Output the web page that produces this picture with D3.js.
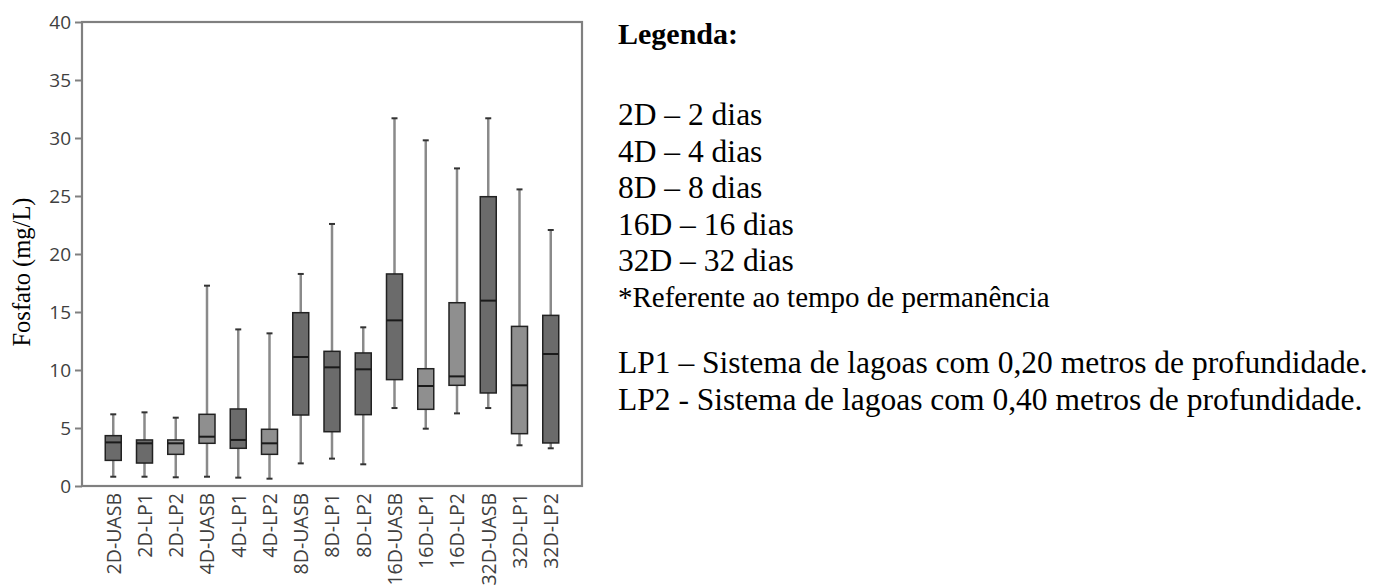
<!DOCTYPE html>
<html>
<head>
<meta charset="utf-8">
<script src="https://cdn.jsdelivr.net/npm/d3@7"></script>
<style>
  body { margin: 0; background: #fff; }
  svg { display: block; }
</style>
</head>
<body>
<script>
// box summary per group (mg/L)
const categories = ["2D-UASB", "2D-LP1", "2D-LP2", "4D-UASB", "4D-LP1", "4D-LP2",
  "8D-UASB", "8D-LP1", "8D-LP2", "16D-UASB", "16D-LP1", "16D-LP2",
  "32D-UASB", "32D-LP1", "32D-LP2"];
const whiskerLow  = [0.80, 0.80, 0.75, 0.80, 0.72, 0.63, 1.95, 2.36, 1.87, 6.72, 4.94, 6.26, 6.72, 3.51, 3.25];
const q1          = [2.21, 1.98, 2.73, 3.68, 3.25, 2.73, 6.12, 4.68, 6.15, 9.17, 6.61, 8.68, 8.02, 4.51, 3.71];
const medians     = [3.76, 3.68, 3.68, 4.25, 3.97, 3.68, 11.12, 10.23, 10.06, 14.28, 8.62, 9.45, 15.98, 8.68, 11.38];
const q3          = [4.34, 3.97, 3.97, 6.18, 6.64, 4.89, 14.94, 11.61, 11.47, 18.28, 10.11, 15.80, 24.94, 13.76, 14.71];
const whiskerHigh = [6.18, 6.35, 5.89, 17.27, 13.50, 13.16, 18.28, 22.59, 13.68, 31.70, 29.80, 27.38, 31.70, 25.57, 22.07];
const yTicks = [0, 5, 10, 15, 20, 25, 30, 35, 40];

const legendTitle = "Legenda:";
const legendDays = ["2D – 2 dias", "4D – 4 dias", "8D – 8 dias", "16D – 16 dias", "32D – 32 dias"];
const legendNote = "*Referente ao tempo de permanência";
const legendSystems = ["LP1 – Sistema de lagoas com 0,20 metros de profundidade.",
  "LP2 - Sistema de lagoas com 0,40 metros de profundidade."];

// the lighter grey boxes in the original
const lightBoxes = new Set(["2D-LP2", "4D-UASB", "4D-LP2", "16D-LP1", "16D-LP2", "32D-LP1"]);

const width = 1384, height = 585;
const plotLeft = 82, plotRight = 582, plotTop = 22, plotBottom = 486;

const svg = d3.select("body").append("svg")
  .attr("width", width)
  .attr("height", height);

const x = d3.scalePoint().domain(categories).range([plotLeft, plotRight]).padding(1);
const y = d3.scaleLinear().domain([0, 40]).range([plotBottom, plotTop]);

const boxes = categories.map((c, i) => ({
  name: c, lo: whiskerLow[i], q1: q1[i], med: medians[i], q3: q3[i], hi: whiskerHigh[i]
}));

// y axis
const yAxis = svg.append("g")
  .attr("transform", `translate(${plotLeft},0)`)
  .call(d3.axisLeft(y).tickValues(yTicks).tickSize(7).tickPadding(4));
yAxis.select(".domain").remove();
yAxis.selectAll("line").attr("stroke", "#808080").attr("stroke-width", 2);
yAxis.selectAll("text")
  .attr("fill", "#404040")
  .style("font-family", "'Open Sans', sans-serif")
  .style("font-size", "19px");

// x labels (no tick marks in the original)
const xAxis = svg.append("g")
  .attr("transform", `translate(0,${plotBottom})`)
  .call(d3.axisBottom(x).tickSize(0).tickPadding(0));
xAxis.select(".domain").remove();
xAxis.selectAll("text")
  .attr("fill", "#404040")
  .attr("transform", "rotate(-90)")
  .attr("x", -7)
  .attr("y", 0)
  .attr("dy", "0.35em")
  .attr("text-anchor", "end")
  .style("font-family", "'Open Sans', sans-serif")
  .style("font-size", "19.5px");

// frame
svg.append("rect")
  .attr("x", plotLeft).attr("y", plotTop)
  .attr("width", plotRight - plotLeft).attr("height", plotBottom - plotTop)
  .attr("fill", "none")
  .attr("stroke", "#808080")
  .attr("stroke-width", 2.2);

const bw = 16, cap = 6;
const g = svg.append("g").selectAll("g").data(boxes).join("g")
  .attr("transform", d => `translate(${x(d.name)},0)`);

g.append("line")
  .attr("y1", d => y(d.lo)).attr("y2", d => y(d.hi))
  .attr("stroke", "#8a8a8a").attr("stroke-width", 2.5);
g.append("line")
  .attr("x1", -cap / 2).attr("x2", cap / 2)
  .attr("y1", d => y(d.hi)).attr("y2", d => y(d.hi))
  .attr("stroke", "#333").attr("stroke-width", 2);
g.append("line")
  .attr("x1", -cap / 2).attr("x2", cap / 2)
  .attr("y1", d => y(d.lo)).attr("y2", d => y(d.lo))
  .attr("stroke", "#333").attr("stroke-width", 2);
g.append("rect")
  .attr("x", -bw / 2).attr("width", bw)
  .attr("y", d => y(d.q3))
  .attr("height", d => y(d.q1) - y(d.q3))
  .attr("fill", d => lightBoxes.has(d.name) ? "#8f8f8f" : "#6b6b6b")
  .attr("stroke", "#222").attr("stroke-width", 1.5);
g.append("line")
  .attr("x1", -bw / 2).attr("x2", bw / 2)
  .attr("y1", d => y(d.med)).attr("y2", d => y(d.med))
  .attr("stroke", "#1a1a1a").attr("stroke-width", 2);

// y title
svg.append("text")
  .attr("transform", "translate(30,272) rotate(-90)")
  .attr("text-anchor", "middle")
  .style("font-family", "'Liberation Serif', 'Times New Roman', serif")
  .style("font-size", "24.5px")
  .attr("fill", "#000")
  .text("Fosfato (mg/L)");

// legend text block
const serif = "'Liberation Serif', 'Times New Roman', serif";
const lx = 618;
svg.append("text")
  .attr("x", lx).attr("y", 44)
  .style("font-family", serif).style("font-size", "30px").style("font-weight", "bold")
  .text(legendTitle);
svg.selectAll("text.day").data(legendDays).join("text")
  .attr("class", "day")
  .attr("x", lx).attr("y", (d, i) => 125 + i * 36.5)
  .style("font-family", serif).style("font-size", "31.5px")
  .text(d => d);
svg.append("text")
  .attr("x", lx).attr("y", 306.5)
  .style("font-family", serif).style("font-size", "29px")
  .text(legendNote);
svg.selectAll("text.sys").data(legendSystems).join("text")
  .attr("class", "sys")
  .attr("x", lx).attr("y", (d, i) => 373 + i * 37)
  .style("font-family", serif).style("font-size", "31.5px")
  .text(d => d);
</script>
</body>
</html>
